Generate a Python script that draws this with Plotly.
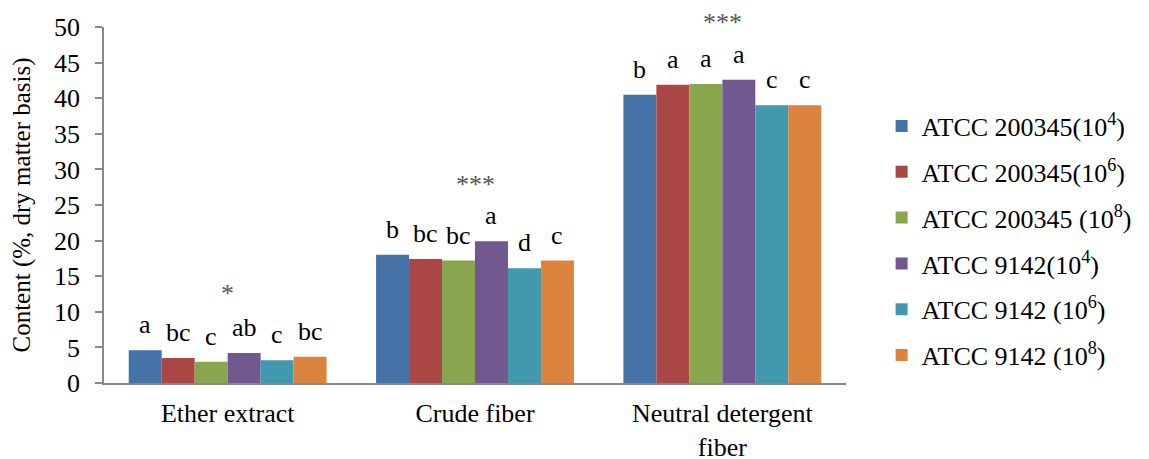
import plotly.graph_objects as go

categories = ["Ether extract", "Crude fiber", "Neutral detergent<br>fiber"]
series_names = [
    "ATCC 200345(10<sup>4</sup>)",
    "ATCC 200345(10<sup>6</sup>)",
    "ATCC 200345 (10<sup>8</sup>)",
    "ATCC 9142(10<sup>4</sup>)",
    "ATCC 9142 (10<sup>6</sup>)",
    "ATCC 9142 (10<sup>8</sup>)",
]
colors = ["#4572A7", "#AA4643", "#89A54E", "#71588F", "#4198AF", "#DB843D"]

atcc200345_1e4 = [4.6, 18.0, 40.5]
atcc200345_1e6 = [3.5, 17.4, 41.9]
atcc200345_1e8 = [3.0, 17.2, 42.0]
atcc9142_1e4 = [4.2, 19.9, 42.6]
atcc9142_1e6 = [3.2, 16.1, 39.0]
atcc9142_1e8 = [3.7, 17.2, 39.0]
values = [atcc200345_1e4, atcc200345_1e6, atcc200345_1e8,
          atcc9142_1e4, atcc9142_1e6, atcc9142_1e8]

letters_1 = ["a", "b", "b"]
letters_2 = ["bc", "bc", "a"]
letters_3 = ["c", "bc", "a"]
letters_4 = ["ab", "a", "a"]
letters_5 = ["c", "d", "c"]
letters_6 = ["bc", "c", "c"]
letters = [letters_1, letters_2, letters_3, letters_4, letters_5, letters_6]

significance = ["*", "***", "***"]

yticks = [0, 5, 10, 15, 20, 25, 30, 35, 40, 45, 50]

FONT = "Liberation Serif, Times New Roman, serif"
BARGAP = 0.2
n_series = len(values)
slot = (1 - BARGAP) / n_series

fig = go.Figure()
for i, (name, vals, col) in enumerate(zip(series_names, values, colors)):
    fig.add_trace(go.Bar(
        x=categories, y=vals, name=name,
        marker=dict(color=col, line=dict(width=0)),
        legendgroup=f"g{i}",
    ))

# significance letters above each bar (positioned via the category axis index)
for i, (vals, labs) in enumerate(zip(values, letters)):
    off = (i - (n_series - 1) / 2) * slot
    for j, (v, lab) in enumerate(zip(vals, labs)):
        fig.add_annotation(
            x=j + off, y=v, text=lab, showarrow=False,
            yanchor="bottom", yshift=9,
            font=dict(family=FONT, size=26, color="black"),
        )

for cat, sig, *vals in zip(categories, significance, *values):
    fig.add_annotation(
        x=cat, y=max(vals), text=sig, showarrow=False,
        yshift=57, yanchor="middle",
        font=dict(family=FONT, size=26, color="#555555"),
    )

fig.update_layout(
    width=1141, height=451,
    barmode="group", bargap=BARGAP, bargroupgap=0,
    plot_bgcolor="white", paper_bgcolor="white",
    margin=dict(l=96, r=287, t=19, b=76),
    font=dict(family=FONT, size=26, color="black"),
    legend=dict(
        x=1.048, y=0.40, xanchor="left", yanchor="middle",
        font=dict(family=FONT, size=26, color="black"),
        tracegroupgap=9, traceorder="grouped",
        bgcolor="rgba(0,0,0,0)",
    ),
    showlegend=True,
)
fig.update_xaxes(
    automargin=False,
    showline=True, linecolor="#888888", linewidth=1.5,
    ticks="", showgrid=False, ticklabelstandoff=6,
    tickfont=dict(family=FONT, size=26, color="black"),
)
fig.update_yaxes(
    automargin=False,
    range=[0, 50], tickvals=yticks, ticktext=[str(t) for t in yticks],
    showline=True, linecolor="#888888", linewidth=1.5,
    ticks="outside", ticklen=7, tickcolor="#888888", tickwidth=1.5,
    showgrid=False, zeroline=False, ticklabelstandoff=10,
    tickfont=dict(family=FONT, size=26, color="black"),
    title=dict(text="Content (%, dry matter basis)", font=dict(family=FONT, size=25, color="black"), standoff=24),
)

fig.write_html("out.html")
